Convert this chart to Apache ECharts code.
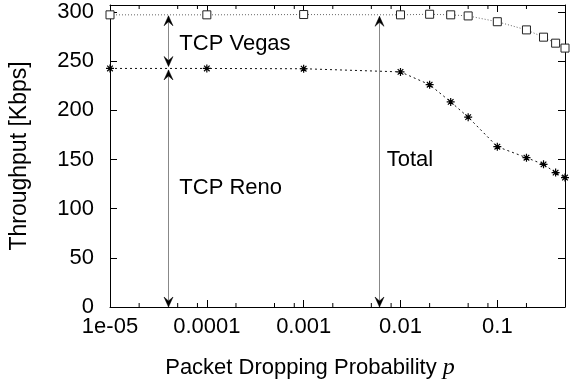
<!DOCTYPE html>
<html>
<head>
<meta charset="utf-8">
<script src="https://cdn.jsdelivr.net/npm/echarts@6/dist/echarts.min.js"></script>
<style>
html,body{margin:0;padding:0;background:#fff;}
#chart{width:570px;height:385px;}
</style>
</head>
<body>
<div id="chart"></div>
<script>
// ---- data ----
const probs = [1e-5, 1e-4, 1e-3, 0.01, 0.02, 0.033, 0.05, 0.1, 0.2, 0.3, 0.4, 0.5];
const totalThroughput = [297, 297, 297.3, 297, 297.6, 297, 295.9, 290, 281.7, 274.3, 268.2, 263.2];
const renoThroughput = [242.5, 242.5, 242.2, 239, 226, 208.5, 193, 163, 151.8, 145, 136.6, 131.6];
const xTickLabels = {'-5': '1e-05', '-4': '0.0001', '-3': '0.001', '-2': '0.01', '-1': '0.1'};
const xMinorTicks = [2e-5, 5e-5, 8e-5, 2e-4, 5e-4, 8e-4, 2e-3, 5e-3, 8e-3, 2e-2, 5e-2, 8e-2, 0.2];
const arrows = [
  [4e-5, 296, 244.5],   // TCP Vegas span
  [4e-5, 241, 0],       // TCP Reno span
  [0.006, 295.5, 0]     // Total span
];
const annotations = [
  ['TCP Vegas', 5.2e-5, 267.5],
  ['TCP Reno', 5.2e-5, 121],
  ['Total', 7.2e-3, 149]
];
const xMin = 1e-5, xMax = 0.5, yMin = 0, yMax = 307;

const FONT = 'Liberation Sans, Arial, sans-serif';
const chart = echarts.init(document.getElementById('chart'), null, {renderer: 'canvas'});

const xLabelFmt = function (v) {
  const l = Math.log10(v);
  const e = Math.round(l);
  if (Math.abs(l - e) > 1e-6) return '';
  return xTickLabels[String(e)] || '';
};

const baseX = {
  type: 'log', logBase: 10, min: xMin, max: xMax,
  axisLine: {show: true, onZero: false, lineStyle: {color: '#000', width: 1}},
  axisTick: {show: true, inside: true, length: 7, lineStyle: {color: '#000'}},
  splitLine: {show: false},
  minorTick: {show: false}
};
const baseY = {
  type: 'value', min: yMin, max: yMax, interval: 50,
  axisLine: {show: true, lineStyle: {color: '#000', width: 1}},
  axisTick: {show: true, inside: true, length: 7, lineStyle: {color: '#000'}},
  splitLine: {show: false}
};

const asterisk = 'path://M0,5L10,5M5,0L5,10M1.5,1.5L8.5,8.5M8.5,1.5L1.5,8.5';

chart.setOption({
  animation: false,
  backgroundColor: '#fff',
  grid: {left: 108, right: 5, top: 5, bottom: 77, containLabel: false},
  xAxis: [
    Object.assign({}, baseX, {
      position: 'bottom',
      name: 'Packet Dropping Probability {i|p}',
      nameLocation: 'middle', nameGap: 49,
      nameTextStyle: {
        fontFamily: FONT, fontSize: 22, color: '#000', padding: [0, 55, 0, 0],
        rich: {i: {fontFamily: 'Liberation Serif, DejaVu Serif, serif', fontStyle: 'italic', fontSize: 24, color: '#000'}}
      },
      axisLabel: {show: true, formatter: xLabelFmt, fontFamily: FONT, fontSize: 22, color: '#000', margin: 9, showMaxLabel: false}
    }),
    Object.assign({}, baseX, {position: 'top', axisLabel: {show: false}})
  ],
  yAxis: [
    Object.assign({}, baseY, {
      position: 'left',
      name: 'Throughput [Kbps]', nameLocation: 'middle', nameGap: 79, nameRotate: 90,
      nameTextStyle: {fontFamily: FONT, fontSize: 23, color: '#000'},
      axisLabel: {show: true, fontFamily: FONT, fontSize: 22, color: '#000', margin: 16, showMaxLabel: false}
    }),
    Object.assign({}, baseY, {position: 'right', axisLabel: {show: false}})
  ],
  series: [
    {
      name: 'Total', type: 'line',
      data: probs.map((p, i) => [p, totalThroughput[i]]),
      lineStyle: {color: '#666', width: 1, type: [1, 2]},
      symbol: 'rect', symbolSize: 8,
      itemStyle: {color: '#fff', borderColor: '#222', borderWidth: 1},
      z: 3
    },
    {
      name: 'TCP Reno', type: 'line',
      data: probs.map((p, i) => [p, renoThroughput[i]]),
      lineStyle: {color: '#111', width: 1, type: [2, 3]},
      symbol: asterisk, symbolSize: 8,
      itemStyle: {color: 'none', borderColor: '#000', borderWidth: 1.2},
      z: 3
    },
    {
      name: 'minorTicks', type: 'custom', silent: true, clip: false,
      data: xMinorTicks.map(v => [v, yMin]),
      encode: {x: 0, y: 1},
      renderItem: function (params, api) {
        const b = api.coord([api.value(0), yMin]);
        const t = api.coord([api.value(0), yMax]);
        const st = {stroke: '#000', lineWidth: 1};
        return {type: 'group', children: [
          {type: 'line', shape: {x1: b[0], y1: b[1], x2: b[0], y2: b[1] - 4}, style: st},
          {type: 'line', shape: {x1: t[0], y1: t[1], x2: t[0], y2: t[1] + 4}, style: st}
        ]};
      }
    },
    {
      name: 'arrows', type: 'custom', silent: true, clip: false,
      data: arrows,
      encode: {x: 0, y: [1, 2]},
      renderItem: function (params, api) {
        const a = api.coord([api.value(0), api.value(1)]);
        const b = api.coord([api.value(0), api.value(2)]);
        const x = Math.round(a[0]) + 0.5;
        const hl = 10, hw = 4.5, notch = 6;
        const dir = b[1] > a[1] ? 1 : -1;
        const headAt = function (tipY, d) {
          return {type: 'polygon', shape: {points: [
            [x, tipY], [x - hw, tipY - d * hl], [x, tipY - d * notch], [x + hw, tipY - d * hl]
          ]}, style: {fill: '#000', stroke: '#000', lineWidth: 0.5}};
        };
        return {type: 'group', children: [
          {type: 'line', shape: {x1: x, y1: a[1], x2: x, y2: b[1]}, style: {stroke: '#888', lineWidth: 1}},
          headAt(a[1], -dir),
          headAt(b[1], dir)
        ]};
      }
    },
    {
      name: 'labels', type: 'custom', silent: true, clip: false,
      data: annotations.map(a => [a[1], a[2]]),
      encode: {x: 0, y: 1},
      renderItem: function (params, api) {
        const ann = annotations[params.dataIndex];
        const c = api.coord([ann[1], ann[2]]);
        return {type: 'text', x: c[0], y: c[1], style: {
          text: ann[0], fill: '#000', font: '22px ' + FONT, align: 'left', verticalAlign: 'middle'
        }};
      }
    }
  ]
});
</script>
</body>
</html>
